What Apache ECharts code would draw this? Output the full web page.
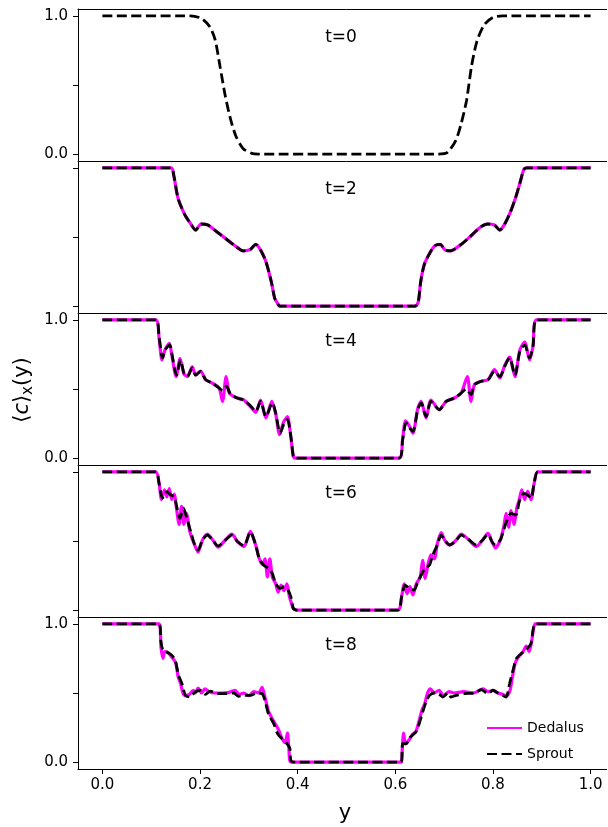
<!DOCTYPE html>
<html>
<head>
<meta charset="utf-8">
<script src="https://cdn.jsdelivr.net/npm/echarts@6/dist/echarts.min.js"></script>
<style>
  html, body { margin: 0; padding: 0; background: #fff; overflow: hidden; }
  #main { width: 640px; height: 827px; }
</style>
</head>
<body>
<div id="main"></div>
<script>
// panel labels and axis ticks
const panelTitles = ['t=0', 't=2', 't=4', 't=6', 't=8'];
const xTicks = [0, 0.2, 0.4, 0.6, 0.8, 1.0];
const yTicks = [0, 0.5, 1.0];
const yLabelTicks = [0, 1.0];

// Sprout (black dashed), one array of [y, <c>] pairs per panel
const sprout0 = [[0, 1], [0.18, 1], [0.202, 0.983], [0.22, 0.922], [0.231, 0.826], [0.241, 0.633], [0.252, 0.415],
  [0.263, 0.246], [0.274, 0.125], [0.288, 0.041], [0.306, 0.005], [0.32, 0], [0.688, 0], [0.706, 0.01], [0.724, 0.1],
  [0.735, 0.222], [0.746, 0.39], [0.756, 0.633], [0.767, 0.814], [0.782, 0.935], [0.8, 0.99], [0.82, 1], [1, 1]];
const sprout2 = [[0, 1], [0.141, 1], [0.146, 0.949], [0.155, 0.78], [0.169, 0.66], [0.18, 0.6], [0.191, 0.55],
  [0.202, 0.594], [0.216, 0.587], [0.234, 0.539], [0.252, 0.49], [0.274, 0.43], [0.288, 0.4], [0.303, 0.41],
  [0.314, 0.447], [0.324, 0.406], [0.335, 0.321], [0.346, 0.176], [0.353, 0.056], [0.36, 0.012], [0.363, 0],
  [0.641, 0], [0.647, 0.03], [0.652, 0.176], [0.659, 0.297], [0.67, 0.38], [0.681, 0.437], [0.692, 0.447],
  [0.702, 0.406], [0.713, 0.4], [0.735, 0.447], [0.753, 0.502], [0.774, 0.57], [0.789, 0.594], [0.803, 0.587],
  [0.814, 0.55], [0.825, 0.6], [0.836, 0.683], [0.846, 0.78], [0.856, 0.9], [0.863, 0.986], [0.869, 1], [1, 1]];
const sprout4 = [[0, 1], [0.109, 1], [0.116, 0.88], [0.123, 0.725], [0.129, 0.785], [0.138, 0.82], [0.142, 0.76],
  [0.152, 0.6], [0.16, 0.71], [0.167, 0.616], [0.174, 0.59], [0.184, 0.652], [0.191, 0.6], [0.201, 0.628],
  [0.2115, 0.567], [0.225, 0.543], [0.239, 0.507], [0.246, 0.49], [0.254, 0.52], [0.263, 0.459], [0.276, 0.435],
  [0.29, 0.42], [0.304, 0.375], [0.314, 0.338], [0.324, 0.41], [0.335, 0.3], [0.348, 0.4], [0.355, 0.326],
  [0.364, 0.18], [0.372, 0.25], [0.379, 0.28], [0.386, 0.157], [0.391, 0.012], [0.394, 0],
  [0.608, 0], [0.615, 0.133], [0.622, 0.254], [0.629, 0.22], [0.636, 0.193], [0.646, 0.35], [0.653, 0.4],
  [0.663, 0.3], [0.673, 0.41], [0.69, 0.35], [0.704, 0.41], [0.721, 0.435], [0.735, 0.471], [0.745, 0.5],
  [0.755, 0.46], [0.762, 0.531], [0.776, 0.556], [0.79, 0.567], [0.803, 0.628], [0.814, 0.59], [0.824, 0.664],
  [0.834, 0.725], [0.845, 0.6], [0.855, 0.77], [0.865, 0.82], [0.875, 0.725], [0.882, 0.81], [0.889, 1], [1, 1]];
const sprout6 = [[0, 1], [0.109, 1], [0.116, 0.918], [0.123, 0.81], [0.132, 0.857], [0.14, 0.833], [0.147, 0.82],
  [0.152, 0.75], [0.159, 0.664], [0.166, 0.737], [0.173, 0.664], [0.181, 0.567], [0.188, 0.483], [0.196, 0.435],
  [0.205, 0.507], [0.215, 0.543], [0.226, 0.507], [0.237, 0.464], [0.25, 0.5], [0.265, 0.543], [0.277, 0.495],
  [0.29, 0.466], [0.303, 0.567], [0.314, 0.471], [0.321, 0.375], [0.33, 0.326], [0.341, 0.3], [0.348, 0.266],
  [0.355, 0.193], [0.364, 0.157], [0.372, 0.169], [0.38, 0.145], [0.386, 0.097], [0.391, 0.012], [0.398, 0],
  [0.605, 0], [0.613, 0.097], [0.62, 0.181], [0.629, 0.157], [0.638, 0.145], [0.645, 0.193], [0.653, 0.254],
  [0.661, 0.3], [0.67, 0.326], [0.677, 0.4], [0.686, 0.471], [0.694, 0.543], [0.701, 0.507], [0.711, 0.471],
  [0.723, 0.495], [0.735, 0.543], [0.749, 0.514], [0.766, 0.471], [0.777, 0.5], [0.79, 0.548], [0.798, 0.495],
  [0.805, 0.471], [0.815, 0.507], [0.822, 0.58], [0.829, 0.652], [0.837, 0.7], [0.847, 0.688], [0.854, 0.785],
  [0.863, 0.845], [0.871, 0.833], [0.878, 0.81], [0.885, 0.93], [0.892, 1], [1, 1]];
const sprout8 = [[0, 1], [0.116, 1], [0.12, 0.87], [0.124, 0.81], [0.132, 0.797], [0.142, 0.773], [0.149, 0.737],
  [0.156, 0.628], [0.163, 0.567], [0.17, 0.483], [0.179, 0.471], [0.19, 0.507], [0.2, 0.52], [0.211, 0.49],
  [0.221, 0.514], [0.235, 0.495], [0.255, 0.495], [0.269, 0.5], [0.279, 0.476], [0.289, 0.483], [0.303, 0.483],
  [0.316, 0.5], [0.327, 0.495], [0.333, 0.447], [0.34, 0.35], [0.351, 0.278], [0.359, 0.205], [0.368, 0.169],
  [0.378, 0.133], [0.384, 0.097], [0.386, 0.012], [0.392, 0],
  [0.612, 0], [0.615, 0.133], [0.622, 0.133], [0.631, 0.181], [0.642, 0.217], [0.649, 0.278], [0.656, 0.362],
  [0.663, 0.435], [0.67, 0.483], [0.68, 0.5], [0.69, 0.49], [0.697, 0.471], [0.708, 0.5], [0.714, 0.471],
  [0.725, 0.483], [0.742, 0.495], [0.762, 0.5], [0.776, 0.524], [0.79, 0.495], [0.8, 0.52], [0.81, 0.5],
  [0.82, 0.483], [0.827, 0.471], [0.834, 0.567], [0.841, 0.664], [0.848, 0.75], [0.858, 0.785], [0.869, 0.82],
  [0.878, 0.857], [0.882, 0.954], [0.887, 1], [1, 1]];

// Dedalus (magenta solid), not drawn at t=0
const dedalus2 = sprout2;
const dedalus4 = [[0, 1], [0.109, 1], [0.116, 0.87], [0.122, 0.71], [0.129, 0.79], [0.137, 0.83], [0.142, 0.75],
  [0.151, 0.59], [0.159, 0.72], [0.167, 0.61], [0.174, 0.59], [0.184, 0.66], [0.191, 0.6], [0.201, 0.63],
  [0.2115, 0.567], [0.225, 0.543], [0.239, 0.507], [0.246, 0.41], [0.2535, 0.59], [0.26, 0.47], [0.276, 0.435],
  [0.29, 0.42], [0.304, 0.37], [0.314, 0.33], [0.324, 0.42], [0.335, 0.29], [0.347, 0.41], [0.355, 0.32],
  [0.363, 0.17], [0.371, 0.26], [0.379, 0.3], [0.386, 0.15], [0.391, 0.012], [0.394, 0],
  [0.608, 0], [0.615, 0.14], [0.621, 0.27], [0.629, 0.23], [0.636, 0.18], [0.646, 0.36], [0.653, 0.41],
  [0.663, 0.29], [0.673, 0.42], [0.69, 0.35], [0.704, 0.41], [0.721, 0.435], [0.735, 0.471], [0.7475, 0.59],
  [0.755, 0.41], [0.762, 0.531], [0.776, 0.556], [0.79, 0.567], [0.803, 0.64], [0.814, 0.58], [0.824, 0.67],
  [0.834, 0.73], [0.845, 0.59], [0.855, 0.78], [0.865, 0.84], [0.875, 0.71], [0.882, 0.81], [0.889, 1], [1, 1]];
const dedalus6 = [[0, 1], [0.109, 1], [0.116, 0.92], [0.121, 0.8], [0.127, 0.87], [0.132, 0.82], [0.137, 0.88],
  [0.142, 0.8], [0.147, 0.84], [0.152, 0.73], [0.157, 0.62], [0.162, 0.75], [0.167, 0.62], [0.172, 0.7],
  [0.179, 0.57], [0.188, 0.48], [0.196, 0.42], [0.205, 0.507], [0.215, 0.55], [0.226, 0.507], [0.237, 0.455],
  [0.25, 0.5], [0.265, 0.55], [0.277, 0.495], [0.29, 0.46], [0.303, 0.57], [0.314, 0.471], [0.321, 0.375],
  [0.328, 0.33], [0.333, 0.37], [0.338, 0.24], [0.343, 0.37], [0.348, 0.24], [0.355, 0.19], [0.36, 0.13],
  [0.366, 0.18], [0.372, 0.14], [0.378, 0.19], [0.383, 0.1], [0.388, 0.04], [0.391, 0.012], [0.398, 0],
  [0.605, 0], [0.613, 0.1], [0.618, 0.19], [0.624, 0.12], [0.63, 0.17], [0.636, 0.11], [0.643, 0.19],
  [0.651, 0.24], [0.656, 0.36], [0.661, 0.23], [0.667, 0.33], [0.673, 0.4], [0.68, 0.37], [0.686, 0.48],
  [0.694, 0.56], [0.701, 0.507], [0.711, 0.471], [0.723, 0.5], [0.735, 0.55], [0.749, 0.514], [0.766, 0.46],
  [0.777, 0.5], [0.79, 0.555], [0.798, 0.495], [0.805, 0.45], [0.815, 0.507], [0.822, 0.6], [0.827, 0.7],
  [0.832, 0.6], [0.837, 0.72], [0.843, 0.62], [0.849, 0.74], [0.854, 0.8], [0.859, 0.87], [0.865, 0.8],
  [0.871, 0.86], [0.878, 0.8], [0.885, 0.93], [0.892, 1], [1, 1]];
const dedalus8 = [[0, 1], [0.116, 1], [0.12, 0.83], [0.124, 0.75], [0.128, 0.8], [0.135, 0.79], [0.142, 0.76],
  [0.15, 0.72], [0.155, 0.62], [0.16, 0.57], [0.165, 0.5], [0.17, 0.48], [0.178, 0.49], [0.186, 0.52],
  [0.19, 0.5], [0.196, 0.535], [0.203, 0.5], [0.21, 0.53], [0.218, 0.51], [0.23, 0.5], [0.245, 0.5],
  [0.26, 0.505], [0.272, 0.52], [0.28, 0.49], [0.29, 0.5], [0.3, 0.48], [0.31, 0.51], [0.32, 0.5],
  [0.327, 0.54], [0.333, 0.47], [0.34, 0.37], [0.35, 0.3], [0.36, 0.24], [0.368, 0.17], [0.374, 0.14],
  [0.379, 0.21], [0.382, 0.1], [0.386, 0], [0.612, 0], [0.614, 0.08], [0.617, 0.21], [0.621, 0.13],
  [0.628, 0.16], [0.635, 0.2], [0.642, 0.22], [0.648, 0.29], [0.655, 0.38], [0.66, 0.42], [0.666, 0.5],
  [0.672, 0.53], [0.68, 0.5], [0.69, 0.52], [0.698, 0.48], [0.71, 0.51], [0.72, 0.5], [0.74, 0.51],
  [0.76, 0.5], [0.78, 0.53], [0.79, 0.51], [0.8, 0.52], [0.81, 0.5], [0.82, 0.49], [0.828, 0.48],
  [0.835, 0.52], [0.84, 0.62], [0.846, 0.72], [0.854, 0.77], [0.862, 0.8], [0.868, 0.84], [0.874, 0.8],
  [0.879, 0.87], [0.883, 0.96], [0.887, 1], [1, 1]];

const sproutSets = [sprout0, sprout2, sprout4, sprout6, sprout8];
const dedalusSets = [null, dedalus2, dedalus4, dedalus6, dedalus8];

// the figure is cut on its right side, so the chart is a bit wider than the window
const chart = echarts.init(document.getElementById('main'), null, { renderer: 'canvas' });
const FONT = 'DejaVu Sans';
const panelTop = 9;
const panelH = 152;
const spine = { show: true, onZero: false, lineStyle: { color: '#000', width: 1 } };

const grids = [];
const xAxes = [];
const yAxes = [];
const series = [];
const graphics = [];

for (let i = 0; i < 5; i++) {
  const last = i === 4;
  const labelled = i % 2 === 0;
  grids.push({
    left: 78, top: panelTop + panelH * i, width: 537, height: panelH,
    outerBoundsMode: 'none', containLabel: false, show: false,
  });
  xAxes.push({
    type: 'value', gridIndex: i, min: -0.05, max: 1.05, position: 'bottom',
    axisLine: spine,
    splitLine: { show: false },
    axisTick: { show: last, length: 5, lineStyle: { color: '#000' }, customValues: xTicks },
    axisLabel: {
      show: last, customValues: xTicks, margin: 9, color: '#000', fontFamily: FONT, fontSize: 15,
      formatter: (v) => v.toFixed(1),
    },
  });
  yAxes.push({
    type: 'value', gridIndex: i, min: -0.05, max: 1.05, position: 'left',
    axisLine: spine,
    splitLine: { show: false },
    axisTick: { show: true, length: 5, lineStyle: { color: '#000' }, customValues: yTicks },
    axisLabel: {
      show: labelled, customValues: yLabelTicks, margin: 10, color: '#000', fontFamily: FONT, fontSize: 15,
      formatter: (v) => v.toFixed(1),
    },
  });
  if (dedalusSets[i]) {
    series.push({
      name: 'Dedalus', type: 'line', xAxisIndex: i, yAxisIndex: i,
      data: dedalusSets[i], showSymbol: false, symbol: 'none', smooth: 0.25,
      lineStyle: { color: '#ff00ff', width: 3.2 }, itemStyle: { color: '#ff00ff' },
    });
  }
  series.push({
    name: 'Sprout', type: 'line', xAxisIndex: i, yAxisIndex: i,
    data: sproutSets[i], showSymbol: false, symbol: 'none', smooth: 0.25,
    lineStyle: { color: '#000', width: 2.8, type: [10, 4.5] }, itemStyle: { color: '#000' },
  });
  graphics.push({
    type: 'text', x: 341, y: panelTop + panelH * i + 29,
    style: { text: panelTitles[i], fill: '#000', font: '17px "DejaVu Sans"', align: 'center', verticalAlign: 'middle' },
  });
}

// top spine of the first panel
xAxes.push({
  type: 'value', gridIndex: 0, min: -0.05, max: 1.05, position: 'top',
  axisLine: spine, axisTick: { show: false }, axisLabel: { show: false }, splitLine: { show: false },
});

graphics.push({
  type: 'text', x: 345, y: 814,
  style: { text: 'y', fill: '#000', font: '21px "DejaVu Sans"', align: 'center', verticalAlign: 'middle' },
});
graphics.push({
  type: 'text', x: 23, y: 390, rotation: Math.PI / 2,
  style: {
    text: '{a|⟨}{i|c}{a|⟩}{s|x}{a|(y)}',
    align: 'center', verticalAlign: 'middle',
    rich: {
      a: { fill: '#000', fontFamily: FONT, fontSize: 21, lineHeight: 28 },
      i: { fill: '#000', fontFamily: FONT, fontSize: 21, fontStyle: 'italic', lineHeight: 28 },
      s: { fill: '#000', fontFamily: FONT, fontSize: 15, lineHeight: 28, padding: [10, 0, 0, 0] },
    },
  },
});
// blank strip past the window edge, where the original figure is cropped
graphics.push({
  type: 'rect', z: 100, silent: true,
  shape: { x: 607, y: 0, width: 40, height: 827 },
  style: { fill: '#fff' },
});

const option = {
  animation: false,
  backgroundColor: '#fff',
  grid: grids,
  xAxis: xAxes,
  yAxis: yAxes,
  series: series,
  legend: {
    data: ['Dedalus', 'Sprout'],
    orient: 'vertical', left: 481, top: 716,
    itemWidth: 35, itemHeight: 14, itemGap: 12,
    itemStyle: { opacity: 0 },
    textStyle: { fontFamily: FONT, fontSize: 14, color: '#000' },
  },
  graphic: graphics,
};
chart.setOption(option);
</script>
</body>
</html>
